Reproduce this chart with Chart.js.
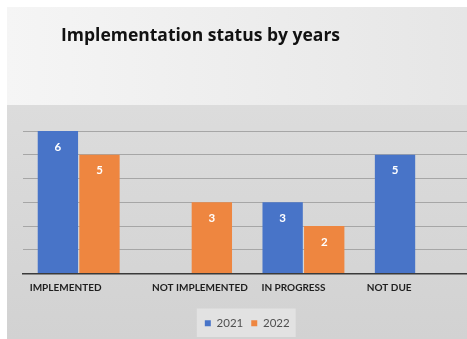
<!DOCTYPE html>
<html>
<head>
<meta charset="utf-8">
<script src="https://cdn.jsdelivr.net/npm/chart.js@4/dist/chart.umd.min.js"></script>
<style>
  html, body { margin: 0; padding: 0; overflow: hidden; background: #ffffff; width: 467px; height: 339px; }
  canvas { display: block; }
</style>
</head>
<body>
<canvas id="chart" width="480" height="339"></canvas>
<script>
// Categories and values per year
const categories = ['IMPLEMENTED', 'NOT IMPLEMENTED', 'IN PROGRESS', 'NOT DUE'];
const years = ['2021', '2022'];
const values2021 = [6, 0, 3, 5];
const values2022 = [5, 3, 2, 0];
const yTicks = [0, 1, 2, 3, 4, 5, 6];

const titleText = 'Implementation status by years';
const BLUE = '#4874c8';
const ORANGE = '#ee8640';
// horizontal nudge of each category label from its category centre (left aligned text)
const labelNudge = [-49, -39, -42, -49];

// Slide-style backdrop: light header strip, grey plot band, legend panel
const backdrop = {
  id: 'backdrop',
  beforeDraw(chart) {
    const ctx = chart.ctx;
    const W = chart.width, H = chart.height;
    ctx.save();
    ctx.fillStyle = '#ffffff';
    ctx.fillRect(0, 0, W, H);
    let g = ctx.createLinearGradient(7, 0, 467, 0);
    g.addColorStop(0, '#f5f5f5');
    g.addColorStop(1, '#e6e6e6');
    ctx.fillStyle = g;
    ctx.fillRect(7, 7, W - 7, 98);
    g = ctx.createLinearGradient(0, 105, 0, H);
    g.addColorStop(0, '#dcdcdc');
    g.addColorStop(1, '#d2d2d2');
    ctx.fillStyle = g;
    ctx.fillRect(7, 105, W - 7, H - 105);
    // legend panel
    const lg = chart.legend;
    if (lg && lg.legendHitBoxes && lg.legendHitBoxes.length) {
      const hb = lg.legendHitBoxes;
      const x0 = hb[0].left - 8, x1 = hb[hb.length - 1].left + hb[hb.length - 1].width + 6;
      const y0 = hb[0].top - 9, y1 = hb[0].top + hb[0].height + 8;
      ctx.fillStyle = '#e2e2e2';
      ctx.fillRect(x0, y0, x1 - x0, y1 - y0);
    }
    ctx.restore();
  }
};

// Title, category labels and in-bar value labels
const annotations = {
  id: 'annotations',
  afterDatasetsDraw(chart) {
    const ctx = chart.ctx;
    ctx.save();
    ctx.fillStyle = '#ffffff';
    ctx.font = 'bold 11.5px Lato, "Open Sans", sans-serif';
    ctx.textAlign = 'center';
    ctx.textBaseline = 'middle';
    chart.data.datasets.forEach((ds, di) => {
      const meta = chart.getDatasetMeta(di);
      meta.data.forEach((bar, i) => {
        const v = ds.data[i];
        if (v > 0) ctx.fillText(String(v), bar.x, bar.y + 16);
      });
    });
    ctx.restore();
  },
  afterDraw(chart) {
    const ctx = chart.ctx;
    ctx.save();
    ctx.fillStyle = '#111111';
    ctx.font = 'bold 17.5px "Open Sans", Lato, sans-serif';
    ctx.textAlign = 'left';
    ctx.textBaseline = 'alphabetic';
    ctx.fillText(titleText, 61, 41);
    const xs = chart.scales.x;
    ctx.fillStyle = '#1e1e1e';
    ctx.font = 'bold 10px Lato, "Open Sans", sans-serif';
    categories.forEach((c, i) => {
      ctx.fillText(c, xs.getPixelForTick(i) + labelNudge[i], 290.5);
    });
    ctx.restore();
  }
};

new Chart(document.getElementById('chart'), {
  type: 'bar',
  data: {
    labels: categories,
    datasets: [
      { label: years[0], data: values2021, backgroundColor: BLUE },
      { label: years[1], data: values2022, backgroundColor: ORANGE }
    ]
  },
  options: {
    responsive: false,
    animation: false,
    devicePixelRatio: 1,
    categoryPercentage: 0.74,
    barPercentage: 0.97,
    layout: { padding: { left: 22.5, right: 8, top: 131, bottom: 0 } },
    plugins: {
      title: { display: false },
      tooltip: { enabled: false },
      legend: {
        position: 'bottom',
        labels: {
          boxWidth: 6,
          boxHeight: 6,
          padding: 8,
          color: '#505050',
          font: { family: 'Lato, "Open Sans", sans-serif', size: 11.5 }
        }
      }
    },
    scales: {
      x: {
        grid: { display: false },
        border: { display: true, color: '#3a3a3a', width: 1.5 },
        ticks: { display: false },
        afterFit(scale) { scale.height = 36; }
      },
      y: {
        min: yTicks[0],
        max: yTicks[yTicks.length - 1],
        afterBuildTicks(scale) { scale.ticks = yTicks.map(v => ({ value: v })); },
        ticks: { display: false },
        grid: { color: '#a6a6a6', lineWidth: 1, drawTicks: false },
        border: { display: false },
        afterFit(scale) { scale.width = 0; }
      }
    }
  },
  plugins: [backdrop, annotations]
});
</script>
</body>
</html>
